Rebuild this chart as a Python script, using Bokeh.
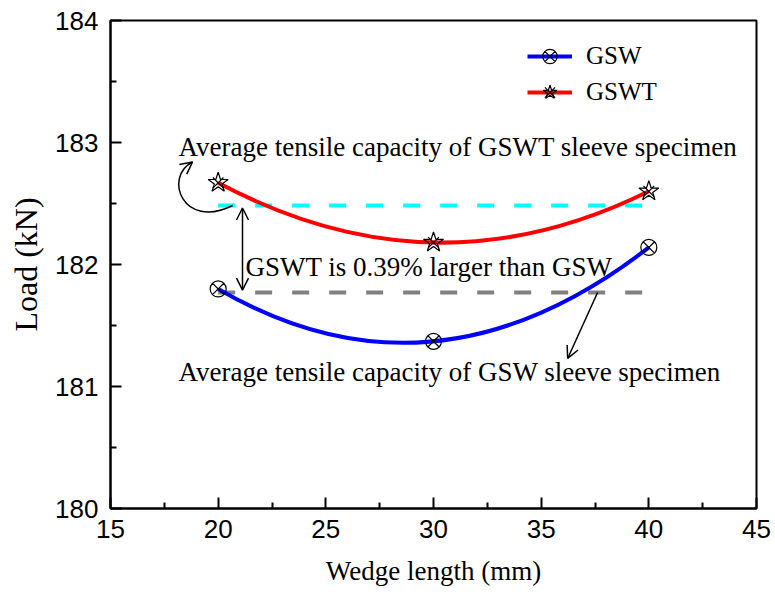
from bokeh.plotting import figure
from bokeh.models import Range1d, FixedTicker, Legend, LegendItem, Arrow, OpenHead, Label
from bokeh.embed import file_html
from bokeh.resources import INLINE

# ---- data ----
wedge_length = [20, 30, 40]
gsw_load = [181.80, 181.37, 182.14]
gswt_load = [182.67, 182.18, 182.60]
x_ticks = [15, 20, 25, 30, 35, 40, 45]
x_minor = [17.5, 22.5, 27.5, 32.5, 37.5, 42.5]
y_ticks = [180, 181, 182, 183, 184]
y_minor = [180.5, 181.5, 182.5, 183.5]
series_names = ["GSW", "GSWT"]

gsw_avg = sum(gsw_load) / len(gsw_load)
gswt_avg = sum(gswt_load) / len(gswt_load)

SERIF = "Liberation Serif"
SANS = "Liberation Sans"

p = figure(width=775, height=594, output_backend="svg", toolbar_location=None,
           x_range=Range1d(15, 45), y_range=Range1d(180, 184),
           min_border_left=110, min_border_right=19, min_border_top=20, min_border_bottom=86)
p.frame_width = 646
p.frame_height = 488
p.xgrid.visible = False
p.ygrid.visible = False
p.outline_line_color = "black"
p.outline_line_width = 2
p.background_fill_color = "white"
p.border_fill_color = "white"

for ax, ticks, minor in ((p.xaxis[0], x_ticks, x_minor), (p.yaxis[0], y_ticks, y_minor)):
    ax.ticker = FixedTicker(ticks=ticks, minor_ticks=minor)
    ax.major_tick_in = 11
    ax.major_tick_out = 0
    ax.minor_tick_in = 6
    ax.minor_tick_out = 0
    ax.axis_line_width = 2
    ax.major_tick_line_width = 2
    ax.minor_tick_line_width = 2
    ax.major_label_text_font = SANS
    ax.major_label_text_font_size = "26px"
    ax.major_label_text_color = "black"
    ax.axis_label_text_font = SERIF
    ax.axis_label_text_font_style = "normal"
    ax.axis_label_text_color = "black"
    ax.major_label_standoff = 11

p.xaxis.axis_label = "Wedge length (mm)"
p.yaxis.axis_label = "Load (kN)"
p.xaxis.axis_label_text_font_size = "27px"
p.yaxis.axis_label_text_font_size = "32px"
p.xaxis.axis_label_standoff = 15
p.yaxis.axis_label_standoff = 8
p.yaxis.major_label_standoff = 12

# average dashed lines
p.line(x=[wedge_length[0], wedge_length[-1]], y=[gswt_avg, gswt_avg], line_color="#00FFFF",
       line_width=4, line_dash="17 20")
p.line(x=[wedge_length[0], wedge_length[-1]], y=[gsw_avg, gsw_avg], line_color="#808080",
       line_width=4, line_dash="17 20")

def curve(ys, color):
    # quadratic passing through all three points
    cx = wedge_length[1]
    cy = 2 * ys[1] - 0.5 * (ys[0] + ys[2])
    return p.quadratic(x0=[wedge_length[0]], y0=[ys[0]], x1=[wedge_length[2]], y1=[ys[2]],
                       cx=[cx], cy=[cy], line_color=color, line_width=4)

c1 = curve(gsw_load, "#0000FF")
c2 = curve(gswt_load, "#FF0000")

m1 = p.scatter(wedge_length, gsw_load, marker="circle_x", size=16, fill_color=None,
               line_color="black", line_width=1.2)
m2a = p.scatter(wedge_length, gswt_load, marker="star", size=21, fill_color=None,
                line_color="black", line_width=1.2)
m2b = p.scatter(wedge_length, gswt_load, marker="x", size=15, fill_color=None,
                line_color="black", line_width=1.2)

legend = Legend(items=[LegendItem(label=series_names[0], renderers=[c1, m1]),
                       LegendItem(label=series_names[1], renderers=[c2, m2a, m2b])],
                location=(417, 398), margin=0, border_line_color=None, background_fill_alpha=0,
                glyph_width=45, glyph_height=36, spacing=0, label_standoff=14, padding=10,
                label_text_font=SERIF, label_text_font_size="25px", label_text_color="black")
p.add_layout(legend)

# annotations
txt = dict(text_font=SERIF, text_font_size="27px", text_color="black", text_baseline="middle")
p.add_layout(Label(x=18.16, y=182.967, text="Average tensile capacity of GSWT sleeve specimen", **txt))
p.add_layout(Label(x=21.27, y=181.98, text="GSWT is 0.39% larger than GSW", **txt))
p.add_layout(Label(x=18.16, y=181.115, text="Average tensile capacity of GSW sleeve specimen", **txt))

# double arrow between averages
p.add_layout(Arrow(start=OpenHead(size=12, line_width=1.5), end=OpenHead(size=12, line_width=1.5),
                   x_start=21.13, y_start=gswt_avg - 0.02, x_end=21.13, y_end=gsw_avg + 0.02,
                   line_width=1.5, line_color="black"))
# arrow to GSW text
p.add_layout(Arrow(end=OpenHead(size=12, line_width=1.5),
                   x_start=37.62, y_start=gsw_avg, x_end=36.23, y_end=181.23,
                   line_width=1.5, line_color="black"))
# curved arrow to GSWT text
p.bezier(x0=[20.67], y0=[gswt_avg], x1=[18.81], y1=[182.84], cx0=[18.35], cy0=[182.28],
         cx1=[17.45], cy1=[182.72], line_color="black", line_width=1.5)
p.add_layout(Arrow(end=OpenHead(size=12, line_width=1.5), x_start=18.59, y_start=182.81,
                   x_end=18.81, y_end=182.84, line_width=0, line_alpha=0))

open("out.html", "w").write(file_html(p, INLINE))
